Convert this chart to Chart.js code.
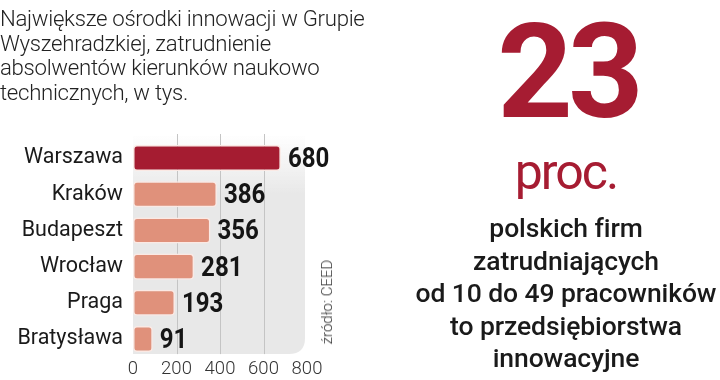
<!DOCTYPE html>
<html><head><meta charset="utf-8">
<script src="https://cdn.jsdelivr.net/npm/chart.js@4/dist/chart.umd.min.js"></script>
<style>
html,body{margin:0;padding:0;background:#fff;width:720px;height:380px;overflow:hidden;}
#wrap{position:absolute;left:0;top:0;width:720px;height:380px;}
canvas{position:absolute;left:0;top:0;}
.title{position:absolute;left:0;top:6px;font-family:Roboto,"Open Sans",sans-serif;font-weight:300;font-size:22.2px;line-height:24.5px;color:#222;letter-spacing:-0.3px;}
.src{position:absolute;left:327px;top:302px;transform:translate(-50%,-50%) rotate(-90deg);font-family:Roboto,sans-serif;font-weight:300;font-size:15px;color:#333;white-space:nowrap;}
.big{position:absolute;left:568px;top:72px;transform:translate(-50%,-50%);font-family:Roboto,sans-serif;font-weight:700;font-size:132px;color:#a61c32;letter-spacing:-5px;line-height:1;}
.proc{position:absolute;left:566px;top:172px;transform:translate(-50%,-50%);font-family:Roboto,sans-serif;font-weight:400;font-size:50px;color:#a61c32;letter-spacing:-2px;line-height:1;}
.desc{position:absolute;left:566px;top:212px;transform:translateX(-50%);text-align:center;font-family:Roboto,sans-serif;font-weight:500;font-size:26.5px;line-height:32.5px;color:#1a1a1a;white-space:nowrap;letter-spacing:-0.1px;}
</style></head>
<body><div id="wrap">
<canvas id="c" width="720" height="380"></canvas>
<div class="title">Największe ośrodki innowacji w Grupie<br>Wyszehradzkiej, zatrudnienie<br>absolwentów kierunków naukowo<br>technicznych, w tys.</div>
<div class="src">źródło: CEED</div>
<div class="big">23</div>
<div class="proc">proc.</div>
<div class="desc">polskich firm<br>zatrudniających<br>od 10 do 49 pracowników<br>to przedsiębiorstwa<br>innowacyjne</div>
</div>
<script>
const categories = ["Warszawa","Kraków","Budapeszt","Wrocław","Praga","Bratysława"];
const values = [680,386,356,281,193,91];
const tickValues = [0,200,400,600,800];
const highlightColor = "#a51c31";
const barColor = "#e0917b";

const panelPlugin = {
  id:'panel',
  beforeDraw(chart){
    const {ctx, chartArea:a, scales:{x}} = chart;
    const left = x.getPixelForValue(0), right = x.getPixelForValue(800) - 2;
    const top = a.top - 6, bottom = a.bottom - 3, r = 16;
    const g = ctx.createLinearGradient(0, top, 0, top + 60);
    g.addColorStop(0,'rgba(232,232,232,0)');
    g.addColorStop(1,'#e8e8e8');
    ctx.save();
    ctx.fillStyle = g;
    ctx.beginPath();
    ctx.moveTo(left, top);
    ctx.lineTo(right, top);
    ctx.lineTo(right, bottom - r);
    ctx.quadraticCurveTo(right, bottom, right - r, bottom);
    ctx.lineTo(left, bottom);
    ctx.closePath();
    ctx.fill();
    ctx.strokeStyle = '#c4c4c4';
    ctx.lineWidth = 1;
    [200,400,600].forEach(v=>{
      const px = Math.round(x.getPixelForValue(v)) + 0.5;
      ctx.beginPath(); ctx.moveTo(px, top); ctx.lineTo(px, bottom); ctx.stroke();
    });
    ctx.restore();
  }
};
const labelPlugin = {
  id:'vlabels',
  afterDatasetsDraw(chart){
    const {ctx} = chart;
    const meta = chart.getDatasetMeta(0);
    ctx.save();
    ctx.font = 'bold 28px Roboto, sans-serif';
    ctx.fillStyle = '#151515';
    ctx.textBaseline = 'middle';
    ctx.textAlign = 'left';
    meta.data.forEach((bar,i)=>{
      ctx.save();
      ctx.translate(bar.x + 7, bar.y + 2);
      ctx.scale(0.86, 1);
      ctx.fillText(String(values[i]), 0, 0);
      ctx.restore();
    });
    ctx.restore();
  }
};

new Chart(document.getElementById('c'), {
  type:'bar',
  data:{labels:categories, datasets:[{
    data:values,
    backgroundColor: values.map((v,i)=> i===0 ? highlightColor : barColor),
    borderColor:'#fbe9e4',
    borderWidth:1.5,
    borderRadius:4,
    borderSkipped:false,
    barPercentage:0.72,
    categoryPercentage:1
  }]},
  options:{
    indexAxis:'y',
    responsive:false,
    animation:false,
    events:[],
    layout:{padding:{left:0,right:413,top:140,bottom:0}},
    plugins:{legend:{display:false},tooltip:{enabled:false}},
    scales:{
      x:{
        min:0,max:800,
        afterBuildTicks(s){ s.ticks = tickValues.map(v=>({value:v})); },
        afterFit(s){ s.height = 20; },
        grid:{display:false,drawTicks:false},
        border:{display:false},
        ticks:{padding:1,color:'#333',font:{family:'Roboto, sans-serif',size:18.5,weight:300}}
      },
      y:{
        afterFit(s){ s.width = 133; },
        grid:{display:false,drawTicks:false},
        border:{display:false},
        ticks:{padding:10,color:'#1a1a1a',font:{family:'Roboto, sans-serif',size:21.5,weight:400}}
      }
    }
  },
  plugins:[panelPlugin,labelPlugin]
});
</script>
</body></html>
